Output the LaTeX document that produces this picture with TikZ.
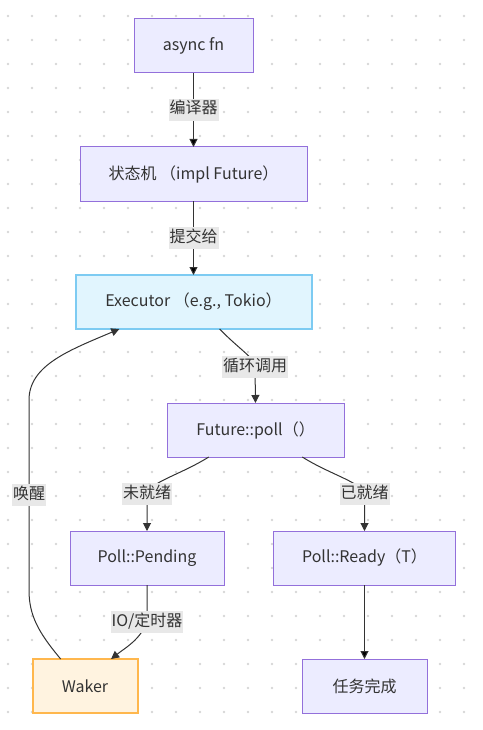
\documentclass[tikz,border=0pt]{standalone}
\usepackage{fontspec}
\setmainfont{Noto Sans CJK SC}
\usepackage{tikz}
\usetikzlibrary{positioning,arrows.meta,calc}

\definecolor{procfill}{HTML}{ECECFF}
\definecolor{procline}{HTML}{9370DB}
\definecolor{execfill}{HTML}{E1F5FE}
\definecolor{execline}{HTML}{7DCBF2}
\definecolor{wakerfill}{HTML}{FFF3E0}
\definecolor{wakerline}{HTML}{FFB74D}
\definecolor{lblfill}{HTML}{E8E8E8}
\definecolor{ink}{HTML}{333333}
\definecolor{dotgray}{HTML}{D6D6D6}

\begin{document}
\begin{tikzpicture}[x=1pt,y=-1pt,
  font=\fontsize{16}{19}\selectfont,
  proc/.style={draw=procline, fill=procfill, line width=1pt, outer sep=0pt, minimum height=54pt, text=ink},
  execbox/.style={proc, draw=execline, fill=execfill, line width=2pt},
  wakerbox/.style={proc, draw=wakerline, fill=wakerfill, line width=2pt},
  lbl/.style={fill=lblfill, text=ink, inner xsep=1pt, inner ysep=3pt, text height=12pt, text depth=4pt},
  flow/.style={draw=ink, line width=1pt, -{Triangle[length=8pt,width=8pt]}}]

  \useasboundingbox (0,0) rectangle (482,730);
  \foreach \i in {0,...,19}
    \foreach \j in {0,...,29}
      \fill[dotgray] (8+24*\i,16+24*\j) circle (1.4pt);

  \node[proc, minimum width=119pt] (async) at (193.5,46) {async fn};
  \node[proc, minimum width=227pt] (fsm) [below=74pt of async] {状态机 （impl Future）};
  \node[execbox, minimum width=236pt] (exec) [below=74pt of fsm] {Executor （e.g., Tokio）};
  \node[proc, minimum width=177pt] (poll) [below=74pt of exec, xshift=62pt] {Future::poll（）};
  \node[proc, minimum width=154pt] (pending) [below=74pt of poll, xshift=-108.5pt] {Poll::Pending};
  \node[proc, minimum width=182pt] (ready) [below=74pt of poll, xshift=109pt] {Poll::Ready（T）};
  \node[wakerbox, minimum width=105pt] (waker) [below=74pt of pending, xshift=-62pt] {Waker};
  \node[proc, minimum width=125pt] (done) [below=74pt of ready] {任务完成};

  \path[flow] (async) edge node[lbl] {编译器} (fsm);
  \path[flow] (fsm) edge node[lbl] {提交给} (exec);
  \draw[flow] (exec.-46) .. controls (240,350) and (255,358) .. (255,367)
    node[lbl] {循环调用} -- (poll.north);
  \draw[flow] (poll.-150) .. controls (180,475) and (150,482) .. (147,494)
    node[lbl] {未就绪} -- (pending.north);
  \draw[flow] (poll.-30) .. controls (331,475) and (361,482) .. (364.5,494)
    node[lbl] {已就绪} -- (ready.north);
  \path[flow] (ready) edge (done);
  \draw[flow] (pending.south) -- (147,622) node[lbl] {IO/定时器}
    .. controls (140,640) and (125,648) .. (waker.46);
  \draw[flow] (waker.132) .. controls (38,632) and (29,615) .. (29,590)
    -- node[lbl] {唤醒} (29,400) .. controls (29,365) and (70,350) .. (exec.-160);

\end{tikzpicture}
\end{document}
